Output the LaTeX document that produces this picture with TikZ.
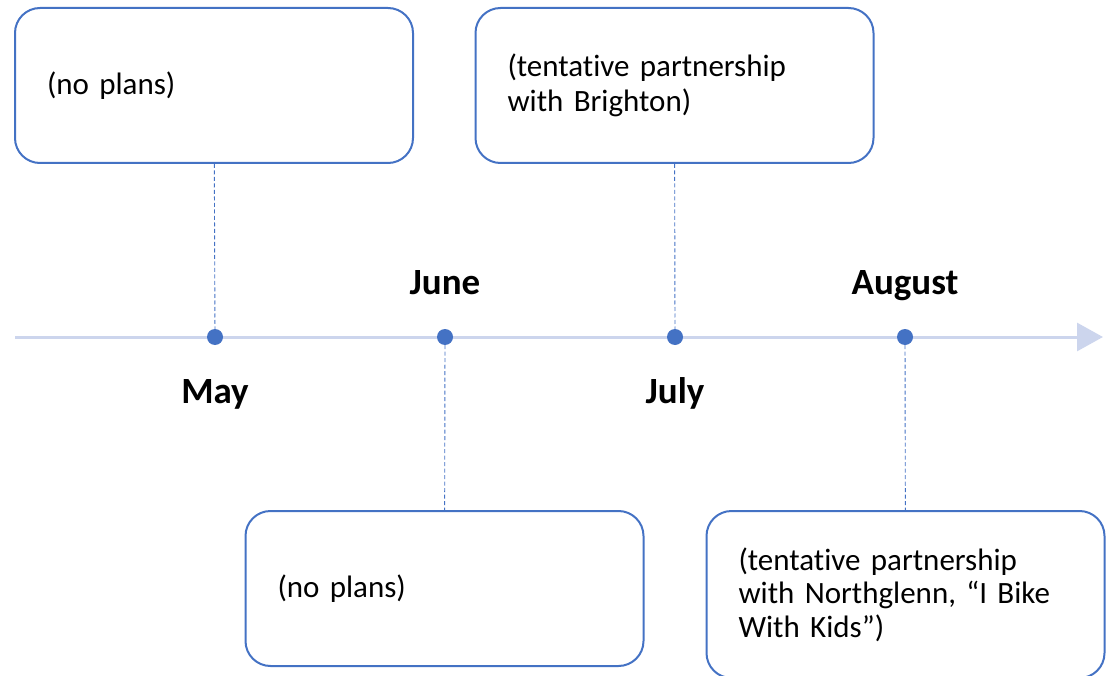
\documentclass[tikz,border=0pt]{standalone}
\usepackage{fontspec}
\setmainfont{Carlito}[Ligatures={NoCommon,NoRequired,NoContextual}, Contextuals=NoAlternate]
\usetikzlibrary{arrows.meta,positioning}

\definecolor{boxblue}{RGB}{68,114,196}
\definecolor{axisblue}{RGB}{204,213,237}

\tikzset{
    planbox/.style={rectangle, draw=boxblue, line width=2pt, rounded corners=25pt,
        minimum width=398pt, minimum height=155pt, text width=334pt, align=left,
        inner xsep=32pt, font=\fontsize{31}{34.5}\selectfont},
    monthdot/.style={circle, fill=boxblue, minimum size=16pt, inner sep=0pt},
    month/.style={font=\fontsize{37}{40}\selectfont\bfseries, inner sep=0pt,
        text height=26pt, text depth=8pt},
    link/.style={draw=boxblue, line width=0.9pt, dash pattern=on 4pt off 2.5pt}
}

\begin{document}
\begin{tikzpicture}[x=1pt, y=-1pt]
    \useasboundingbox (0,0) rectangle (1116,676);

    % Timeline
    \coordinate (start) at (15,337);
    \coordinate (stop) at (1103,337);
    \draw[axisblue, line width=3pt, -{Triangle[length=26pt, width=28pt]}] (start) -- (stop);

    % Month dots
    \node[monthdot] (mayDot) at (215,337) {};
    \node[monthdot] (juneDot) at (445,337) {};
    \node[monthdot] (julyDot) at (675,337) {};
    \node[monthdot] (augDot) at (905,337) {};

    % Month labels
    \node[month, below=32pt of mayDot] (mayLbl) {May};
    \node[month, above=26pt of juneDot] (juneLbl) {June};
    \node[month, below=32pt of julyDot] (julyLbl) {July};
    \node[month, above=26pt of augDot] (augLbl) {August};

    % Plan boxes
    \node[planbox] (mayBox) at (214,85.5) {(no plans)};
    \node[planbox] (julyBox) at (674.5,85.5) {(tentative partnership\\with Brighton)};
    \node[planbox] (juneBox) at (444.5,588.5) {(no plans)};
    \node[planbox, minimum height=167pt, font=\fontsize{31}{33.5}\selectfont] (augBox) at (905.5,594.5)
        {(tentative partnership\\with Northglenn, “I Bike\\With Kids”)};

    % Links
    \draw[link] (mayBox) -- (mayDot);
    \draw[link] (julyBox) -- (julyDot);
    \draw[link] (juneDot) -- (juneBox);
    \draw[link] (augDot) -- (augBox);
\end{tikzpicture}
\end{document}
